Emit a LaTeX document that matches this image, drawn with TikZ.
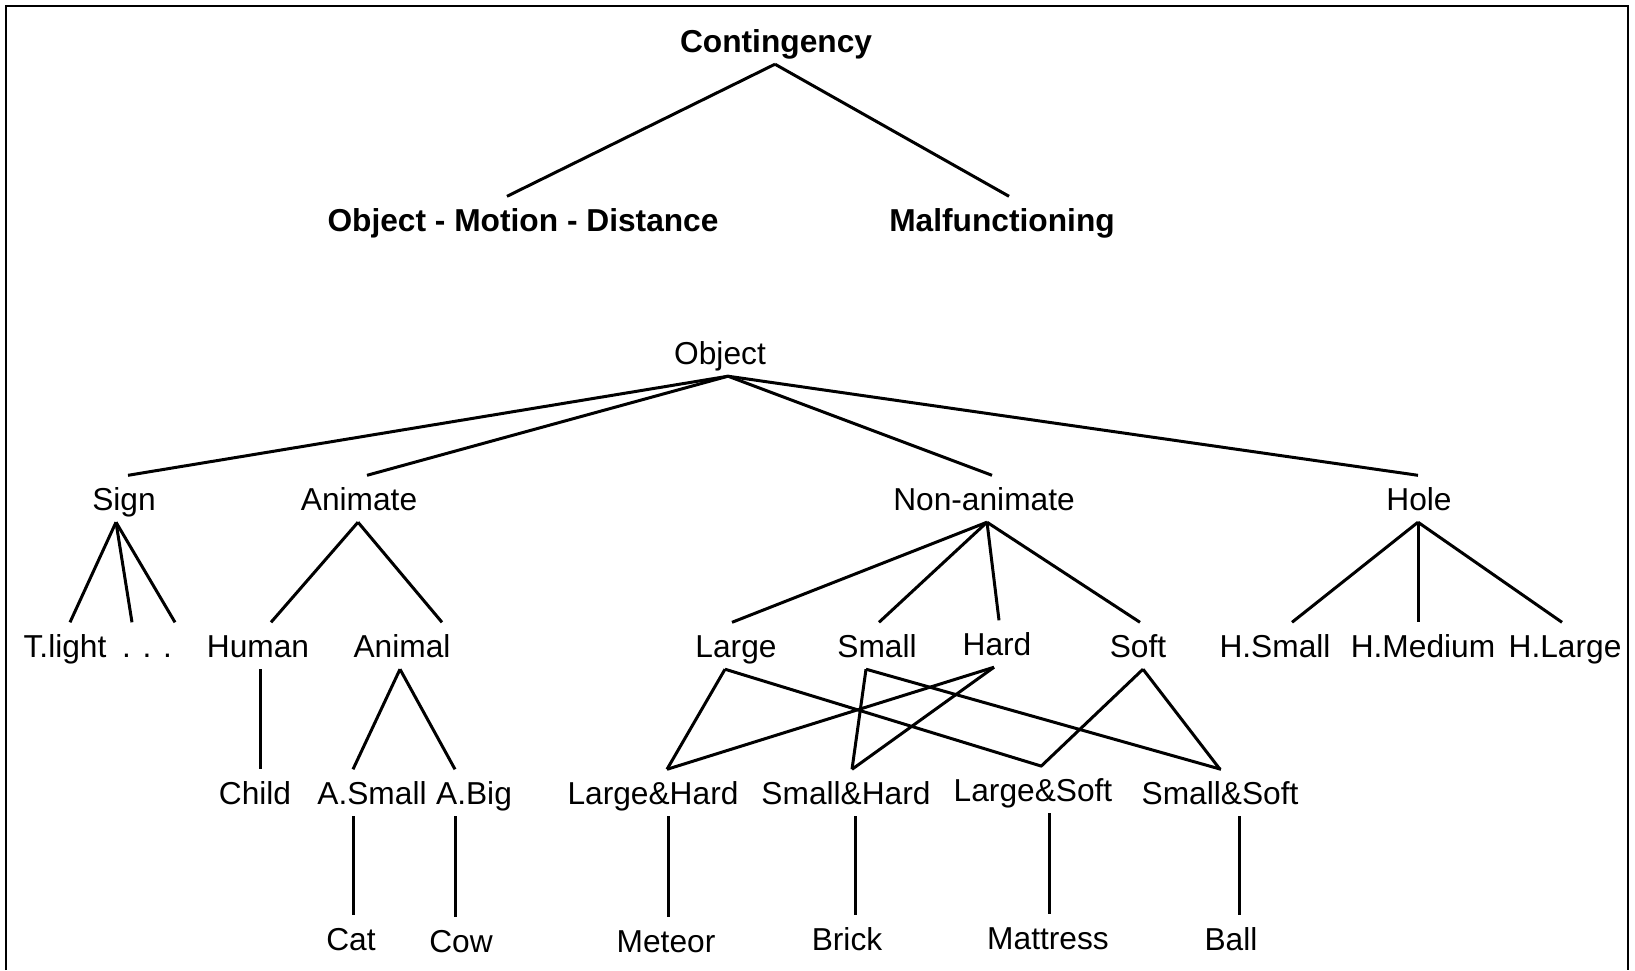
\documentclass[tikz,border=0pt]{standalone}
\usepackage{fontspec}
\setmainfont{Liberation Sans}

\tikzset{
	lbl/.style={anchor=base, inner xsep=0pt, inner ysep=5.5pt, text height=29pt, text depth=6.5pt, font=\fontsize{31.7pt}{38pt}\selectfont},
	hdr/.style={lbl, font=\fontsize{31.7pt}{38pt}\selectfont\bfseries},
	twig/.style={line width=3pt},
	rim/.style={line width=2.5pt}
}

\begin{document}
\begin{tikzpicture}[x=1pt,y=-1pt]
				\useasboundingbox (0,0) rectangle (1635,970);
				\draw[rim] (6,970) -- (6,6) -- (1628,6) -- (1628,970);
				
				% top levels
				\node[hdr] (contingency) at (776,52) {Contingency};
				\node[hdr] (omd) at (523,231) {Object - Motion - Distance};
				\node[hdr] (malf) at (1002,231) {Malfunctioning};
				\node[lbl] (object) at (720,364) {Object};
				
				% object classes
				\node[lbl] (sign) at (124,510) {Sign};
				\node[lbl] (animate) at (359,510) {Animate};
				\node[lbl] (nonanim) at (984,510) {Non-animate};
				\node[lbl] (hole) at (1419,510) {Hole};
				
				\node[lbl] (tlight) at (65,657) {T.light};
				\node[lbl] (dots) at (147,657) {. . .};
				\node[lbl] (human) at (258,657) {Human};
				\node[lbl] (animal) at (402,657) {Animal};
				\node[lbl] (large) at (736,657) {Large};
				\node[lbl] (small) at (877,657) {Small};
				\node[lbl] (hard) at (997,655) {Hard};
				\node[lbl] (soft) at (1138,657) {Soft};
				\node[lbl] (hsmall) at (1275,657) {H.Small};
				\node[lbl] (hmedium) at (1423,657) {H.Medium};
				\node[lbl] (hlarge) at (1565,657) {H.Large};
				
				\node[lbl] (child) at (255,804) {Child};
				\node[lbl] (asmall) at (372,804) {A.Small};
				\node[lbl] (abig) at (474,804) {A.Big};
				\node[lbl] (lhard) at (653,804) {Large\&Hard};
				\node[lbl] (shard) at (846,804) {Small\&Hard};
				\node[lbl] (lsoft) at (1033,801) {Large\&Soft};
				\node[lbl] (ssoft) at (1220,804) {Small\&Soft};
				
				% examples
				\node[lbl] (cat) at (351,950) {Cat};
				\node[lbl] (cow) at (461,952) {Cow};
				\node[lbl] (meteor) at (666,952) {Meteor};
				\node[lbl] (brick) at (847,950) {Brick};
				\node[lbl] (mattress) at (1048,949) {Mattress};
				\node[lbl] (ball) at (1231,950) {Ball};
				
				% parent/shift/child/shift
				\foreach \a/\sa/\b/\sb in {contingency/-1/omd/-16, contingency/-1/malf/7,
					object/8/sign/4, object/8/animate/8, object/8/nonanim/8, object/8/hole/-1,
					sign/-8/tlight/5, sign/-8/dots/-15, sign/-8/dots/28,
					animate/-1/human/13, animate/-1/animal/40,
					nonanim/3/large/-4, nonanim/3/small/2, nonanim/3/hard/2, nonanim/3/soft/2,
					hole/-1/hsmall/17, hole/-1/hmedium/-5, hole/-1/hlarge/-3,
					human/2/child/5, animal/-2/asmall/-19, animal/-2/abig/-19,
					asmall/-19/cat/2, abig/-19/cow/-6,
					large/-11/lhard/14, large/-11/lsoft/9, small/-11/shard/6, small/-11/ssoft/1,
					hard/-3/lhard/14, hard/-3/shard/6, soft/5/lsoft/8, soft/5/ssoft/0,
					lhard/15/meteor/2, shard/9/brick/8, lsoft/16/mattress/1, ssoft/19/ball/8}
				\draw[twig] ([xshift=\sa pt]\a.south) -- ([xshift=\sb pt]\b.north);
\end{tikzpicture}
\end{document}
